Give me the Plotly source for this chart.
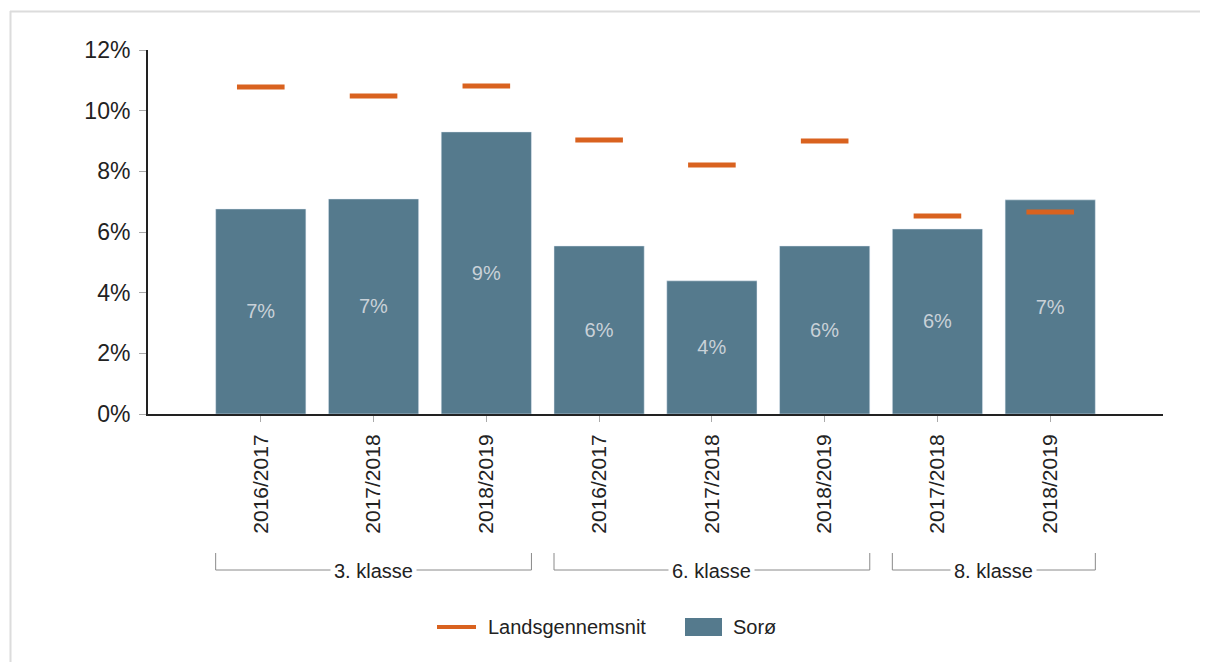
import plotly.graph_objects as go

# ---- data ----
years = ["2016/2017", "2017/2018", "2018/2019",
         "2016/2017", "2017/2018", "2018/2019",
         "2017/2018", "2018/2019"]
groups = ["3. klasse", "3. klasse", "3. klasse",
          "6. klasse", "6. klasse", "6. klasse",
          "8. klasse", "8. klasse"]
soroe = [0.0676, 0.0709, 0.0930, 0.0554, 0.0439, 0.0554, 0.0610, 0.0706]
lands = [0.1078, 0.1048, 0.1081, 0.0903, 0.0821, 0.0900, 0.0653, 0.0666]
yticks = [0, 0.02, 0.04, 0.06, 0.08, 0.10, 0.12]
series_names = ["Landsgennemsnit", "Sorø"]

# page body has an 8px margin: figure sits at (8, 8)
OFF = 8
W, H = 1208 - OFF, 662 - OFF
ML, MR, MT = 148 - OFF, 1208 - 1163, 50 - OFF
MB = H - (414 - OFF)
FONT = "Liberation Sans, Arial, sans-serif"
TXT = "#222222"
BAR = "#557a8d"
ORANGE = "#d9621f"

pw = W - ML - MR
ph = H - MT - MB


def px(xpix):  # reference-page pixel x -> paper
    return (xpix - OFF - ML) / pw


def py(ypix):  # reference-page pixel y -> paper
    return (H - MB - (ypix - OFF)) / ph


xpos = list(range(len(years)))

fig = go.Figure()
fig.add_trace(go.Bar(
    x=xpos, y=soroe, name=series_names[1], marker_color=BAR, width=0.8,
    texttemplate="%{y:.0%}", textposition="inside", insidetextanchor="middle",
    textfont=dict(color="#c9d1d8", size=20, family=FONT),
    hoverinfo="skip", showlegend=False,
))
fig.add_trace(go.Scatter(
    x=xpos, y=lands, name=series_names[0], mode="markers",
    marker=dict(symbol="line-ew", size=34,
                line=dict(color=ORANGE, width=5)),
    hoverinfo="skip", showlegend=False,
))

# group brackets
seen = []
for g in groups:
    if g not in seen:
        seen.append(g)
line = dict(color="#8a8a8a", width=1)
yb, yt = py(570), py(553)
for g in seen:
    idx = [i for i, gg in enumerate(groups) if gg == g]
    x0, x1 = idx[0] - 0.4, idx[-1] + 0.4
    fig.add_shape(type="line", xref="x", yref="paper", x0=x0, x1=x1, y0=yb, y1=yb, line=line)
    fig.add_shape(type="line", xref="x", yref="paper", x0=x0, x1=x0, y0=yb, y1=yt, line=line)
    fig.add_shape(type="line", xref="x", yref="paper", x0=x1, x1=x1, y0=yb, y1=yt, line=line)
    fig.add_annotation(x=(idx[0] + idx[-1]) / 2, y=py(571), xref="x", yref="paper",
                       xanchor="center", yanchor="middle",
                       text=g, showarrow=False, bgcolor="white",
                       font=dict(size=20, color=TXT, family=FONT),
                       borderpad=3)

# legend (drawn manually to match symbol sizes)
ly = py(627)
fig.add_shape(type="line", xref="paper", yref="paper", x0=px(437), x1=px(476),
              y0=ly, y1=ly, line=dict(color=ORANGE, width=4))
fig.add_annotation(x=px(486), y=ly, xref="paper", yref="paper", xanchor="left",
                   yanchor="middle", text=series_names[0], showarrow=False,
                   font=dict(size=20, color=TXT, family=FONT))
fig.add_shape(type="rect", xref="paper", yref="paper", x0=px(685), x1=px(722),
              y0=py(636), y1=py(618), fillcolor=BAR, line=dict(width=0))
fig.add_annotation(x=px(731), y=ly, xref="paper", yref="paper", xanchor="left",
                   yanchor="middle", text=series_names[1], showarrow=False,
                   font=dict(size=20, color=TXT, family=FONT))

# faint frame (top and left)
fig.add_shape(type="line", xref="paper", yref="paper",
              x0=px(10), x1=px(1208), y0=py(11.5), y1=py(11.5),
              line=dict(color="#dcdcdc", width=2))
fig.add_shape(type="line", xref="paper", yref="paper",
              x0=px(10.5), x1=px(10.5), y0=py(11), y1=py(662),
              line=dict(color="#dcdcdc", width=2))

fig.update_layout(
    width=W, height=H,
    margin=dict(l=ML, r=MR, t=MT, b=MB),
    plot_bgcolor="white", paper_bgcolor="white",
    font=dict(family=FONT, color=TXT),
    showlegend=False,
    bargap=0.2,
)
fig.update_xaxes(
    range=[-1, len(years)], tickmode="array", tickvals=xpos, ticktext=years,
    tickangle=-90, tickfont=dict(size=21, color=TXT, family=FONT),
    showline=True, linecolor="#222", linewidth=2,
    ticks="outside", tickcolor="#aaa", ticklen=6, tickwidth=1,
    ticklabelstandoff=4,
    showgrid=False, zeroline=False, fixedrange=True,
)
fig.update_yaxes(
    range=[0, 0.12], tickvals=yticks, tickformat=".0%",
    tickfont=dict(size=23, color=TXT, family=FONT),
    showline=True, linecolor="#222", linewidth=2,
    ticks="outside", tickcolor="#aaa", ticklen=7, tickwidth=1,
    ticklabelstandoff=4,
    showgrid=False, zeroline=False, fixedrange=True,
)

fig.write_html("out.html")
